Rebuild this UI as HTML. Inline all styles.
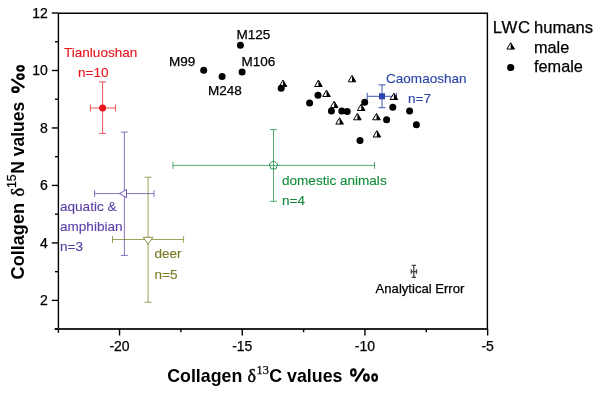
<!DOCTYPE html>
<html><head><meta charset="utf-8"><style>
html,body{margin:0;padding:0;background:#fff;}
svg{display:block;font-family:"Liberation Sans",sans-serif;will-change:transform;}
</style></head><body>
<svg width="600" height="393" viewBox="0 0 600 393">
<rect width="600" height="393" fill="#fff"/>
<path d="M58.3 13.2 H487.4 V329 M58.4 13 V332.8" stroke="#000" stroke-width="1.4" fill="none"/>
<path d="M54.7 329 H487.4" stroke="#262626" stroke-width="2" fill="none"/>
<path d="M119.55 329 V335.5" stroke="#000" stroke-width="1.4"/>
<path d="M242.25 329 V335.5" stroke="#000" stroke-width="1.4"/>
<path d="M364.95 329 V335.5" stroke="#000" stroke-width="1.4"/>
<path d="M487.65 329 V335.5" stroke="#000" stroke-width="1.4"/>
<path d="M180.90 329 V332.2" stroke="#000" stroke-width="1.4"/>
<path d="M303.60 329 V332.2" stroke="#000" stroke-width="1.4"/>
<path d="M426.30 329 V332.2" stroke="#000" stroke-width="1.4"/>
<path d="M51.8 13.00 H58.3" stroke="#000" stroke-width="1.4"/>
<path d="M51.8 70.48 H58.3" stroke="#000" stroke-width="1.4"/>
<path d="M51.8 127.96 H58.3" stroke="#000" stroke-width="1.4"/>
<path d="M51.8 185.44 H58.3" stroke="#000" stroke-width="1.4"/>
<path d="M51.8 242.92 H58.3" stroke="#000" stroke-width="1.4"/>
<path d="M51.8 300.40 H58.3" stroke="#000" stroke-width="1.4"/>
<path d="M55 41.74 H58.3" stroke="#000" stroke-width="1.4"/>
<path d="M55 99.22 H58.3" stroke="#000" stroke-width="1.4"/>
<path d="M55 156.70 H58.3" stroke="#000" stroke-width="1.4"/>
<path d="M55 214.18 H58.3" stroke="#000" stroke-width="1.4"/>
<path d="M55 271.66 H58.3" stroke="#000" stroke-width="1.4"/>
<path d="M55 329.14 H58.3" stroke="#000" stroke-width="1.4"/>
<text x="119.55" y="350.5" font-size="14" stroke="#000" stroke-width="0.25" text-anchor="middle">-20</text>
<text x="242.25" y="350.5" font-size="14" stroke="#000" stroke-width="0.25" text-anchor="middle">-15</text>
<text x="364.95" y="350.5" font-size="14" stroke="#000" stroke-width="0.25" text-anchor="middle">-10</text>
<text x="487.65" y="350.5" font-size="14" stroke="#000" stroke-width="0.25" text-anchor="middle">-5</text>
<text x="47.8" y="17.80" font-size="14" stroke="#000" stroke-width="0.25" text-anchor="end">12</text>
<text x="47.8" y="75.28" font-size="14" stroke="#000" stroke-width="0.25" text-anchor="end">10</text>
<text x="47.8" y="132.76" font-size="14" stroke="#000" stroke-width="0.25" text-anchor="end">8</text>
<text x="47.8" y="190.24" font-size="14" stroke="#000" stroke-width="0.25" text-anchor="end">6</text>
<text x="47.8" y="247.72" font-size="14" stroke="#000" stroke-width="0.25" text-anchor="end">4</text>
<text x="47.8" y="305.20" font-size="14" stroke="#000" stroke-width="0.25" text-anchor="end">2</text>
<path d="M102.6 81.9 V133.4 M99.1 81.9 H106.1 M99.1 133.4 H106.1 M90.4 108 H115.4 M90.4 104.5 V111.5 M115.4 104.5 V111.5" stroke="#e8141c" stroke-opacity="0.72" stroke-width="1" fill="none"/>
<circle cx="102.6" cy="108" r="3.5" fill="#e8141c"/>
<path d="M124.4 132.1 V255.4 M120.9 132.1 H127.9 M120.9 255.4 H127.9 M94.6 193.6 H154 M94.6 190.1 V197.1 M154 190.1 V197.1" stroke="#5b3ea6" stroke-opacity="0.72" stroke-width="1" fill="none"/>
<path d="M119.5 193.6 L126.5 189.5 L126.5 197.7 Z" stroke="#5b3ea6" stroke-width="1" stroke-opacity="0.85" fill="#fff"/>
<path d="M148.1 177.2 V302.2 M144.6 177.2 H151.6 M144.6 302.2 H151.6 M112.5 239.5 H183.6 M112.5 236.0 V243.0 M183.6 236.0 V243.0" stroke="#7a7a22" stroke-opacity="0.72" stroke-width="1" fill="none"/>
<path d="M143.3 237.3 L152.9 237.3 L148.1 244.2 Z" stroke="#7a7a22" stroke-width="1" stroke-opacity="0.85" fill="#fff"/>
<path d="M273.5 129.6 V201.3 M270.0 129.6 H277.0 M270.0 201.3 H277.0 M172.9 165.4 H374.5 M172.9 161.9 V168.9 M374.5 161.9 V168.9" stroke="#138a3a" stroke-opacity="0.72" stroke-width="1" fill="none"/>
<polygon points="273.50,160.90 277.68,163.94 276.09,168.86 270.91,168.86 269.32,163.94" stroke="#138a3a" stroke-width="1" stroke-opacity="0.85" fill="none"/>
<path d="M382 84.9 V107.7 M378.5 84.9 H385.5 M378.5 107.7 H385.5 M367.2 96.3 H396.5 M367.2 92.8 V99.8 M396.5 92.8 V99.8" stroke="#2a44a8" stroke-opacity="0.9" stroke-width="1" fill="none"/>
<rect x="379" y="93.3" width="6" height="6" fill="#2a44a8"/>
<path d="M283.00 80.10 L286.80 86.50 L279.20 86.50 Z" stroke="#000" stroke-width="1" fill="#fff" stroke-linejoin="miter"/>
<path d="M283.00 80.10 L286.80 86.50 L283.00 86.50 Z" fill="#000"/>
<path d="M318.40 80.10 L322.20 86.50 L314.60 86.50 Z" stroke="#000" stroke-width="1" fill="#fff" stroke-linejoin="miter"/>
<path d="M318.40 80.10 L322.20 86.50 L318.40 86.50 Z" fill="#000"/>
<path d="M326.50 90.10 L330.30 96.50 L322.70 96.50 Z" stroke="#000" stroke-width="1" fill="#fff" stroke-linejoin="miter"/>
<path d="M326.50 90.10 L330.30 96.50 L326.50 96.50 Z" fill="#000"/>
<path d="M334.20 101.20 L338.00 107.60 L330.40 107.60 Z" stroke="#000" stroke-width="1" fill="#fff" stroke-linejoin="miter"/>
<path d="M334.20 101.20 L338.00 107.60 L334.20 107.60 Z" fill="#000"/>
<path d="M339.60 117.70 L343.40 124.10 L335.80 124.10 Z" stroke="#000" stroke-width="1" fill="#fff" stroke-linejoin="miter"/>
<path d="M339.60 117.70 L343.40 124.10 L339.60 124.10 Z" fill="#000"/>
<path d="M361.20 104.10 L365.00 110.50 L357.40 110.50 Z" stroke="#000" stroke-width="1" fill="#fff" stroke-linejoin="miter"/>
<path d="M361.20 104.10 L365.00 110.50 L361.20 110.50 Z" fill="#000"/>
<path d="M357.40 113.40 L361.20 119.80 L353.60 119.80 Z" stroke="#000" stroke-width="1" fill="#fff" stroke-linejoin="miter"/>
<path d="M357.40 113.40 L361.20 119.80 L357.40 119.80 Z" fill="#000"/>
<path d="M376.50 113.40 L380.30 119.80 L372.70 119.80 Z" stroke="#000" stroke-width="1" fill="#fff" stroke-linejoin="miter"/>
<path d="M376.50 113.40 L380.30 119.80 L376.50 119.80 Z" fill="#000"/>
<path d="M376.90 130.60 L380.70 137.00 L373.10 137.00 Z" stroke="#000" stroke-width="1" fill="#fff" stroke-linejoin="miter"/>
<path d="M376.90 130.60 L380.70 137.00 L376.90 137.00 Z" fill="#000"/>
<path d="M393.90 93.10 L397.70 99.50 L390.10 99.50 Z" stroke="#000" stroke-width="1" fill="#fff" stroke-linejoin="miter"/>
<path d="M393.90 93.10 L397.70 99.50 L393.90 99.50 Z" fill="#000"/>
<path d="M352.00 75.40 L355.80 81.80 L348.20 81.80 Z" stroke="#000" stroke-width="1" fill="#fff" stroke-linejoin="miter"/>
<path d="M352.00 75.40 L355.80 81.80 L352.00 81.80 Z" fill="#000"/>
<circle cx="240.4" cy="45.2" r="3.5" fill="#000"/>
<circle cx="203.7" cy="70.3" r="3.5" fill="#000"/>
<circle cx="222.1" cy="76.4" r="3.5" fill="#000"/>
<circle cx="242.1" cy="71.9" r="3.5" fill="#000"/>
<circle cx="281.2" cy="88.2" r="3.5" fill="#000"/>
<circle cx="318" cy="95.2" r="3.5" fill="#000"/>
<circle cx="309.6" cy="102.9" r="3.5" fill="#000"/>
<circle cx="331.4" cy="111.1" r="3.5" fill="#000"/>
<circle cx="341.8" cy="111.1" r="3.5" fill="#000"/>
<circle cx="347.2" cy="111.5" r="3.5" fill="#000"/>
<circle cx="364.7" cy="102.2" r="3.5" fill="#000"/>
<circle cx="360" cy="140.4" r="3.5" fill="#000"/>
<circle cx="392.8" cy="107.3" r="3.5" fill="#000"/>
<circle cx="386.6" cy="119.8" r="3.5" fill="#000"/>
<circle cx="409.6" cy="110.9" r="3.5" fill="#000"/>
<circle cx="416.4" cy="124.7" r="3.5" fill="#000"/>
<path d="M413.8 265.3 V277.3 M411.7 265.3 H416 M411.7 277.3 H416 M411.3 271.6 H416.5 M411.3 269.2 V273.8 M416.5 269.2 V273.8" stroke="#444" stroke-width="1.3" fill="none"/>
<text x="64" y="56.7" font-size="13.55" fill="#e8141c" stroke="#e8141c" stroke-width="0.12" >Tianluoshan</text>
<text x="78" y="76.6" font-size="13.55" fill="#e8141c" stroke="#e8141c" stroke-width="0.12" >n=10</text>
<text x="236.5" y="38.5" font-size="13.55" fill="#000" stroke="#000" stroke-width="0.25" >M125</text>
<text x="169" y="65.9" font-size="13.55" fill="#000" stroke="#000" stroke-width="0.25" >M99</text>
<text x="241.5" y="66.3" font-size="13.55" fill="#000" stroke="#000" stroke-width="0.25" >M106</text>
<text x="208" y="95.2" font-size="13.55" fill="#000" stroke="#000" stroke-width="0.25" >M248</text>
<text x="386" y="82.5" font-size="13.55" fill="#2a44a8" stroke="#2a44a8" stroke-width="0.12" >Caomaoshan</text>
<text x="408" y="102.6" font-size="13.55" fill="#2a44a8" stroke="#2a44a8" stroke-width="0.12" >n=7</text>
<text x="282" y="185.2" font-size="13.55" fill="#138a3a" stroke="#138a3a" stroke-width="0.12" >domestic animals</text>
<text x="282" y="205.2" font-size="13.55" fill="#138a3a" stroke="#138a3a" stroke-width="0.12" >n=4</text>
<text x="60" y="210.5" font-size="13.55" fill="#5b3ea6" stroke="#5b3ea6" stroke-width="0.12" >aquatic &amp;</text>
<text x="60" y="230.7" font-size="13.55" fill="#5b3ea6" stroke="#5b3ea6" stroke-width="0.12" >amphibian</text>
<text x="60" y="251" font-size="13.55" fill="#5b3ea6" stroke="#5b3ea6" stroke-width="0.12" >n=3</text>
<text x="154.5" y="258.1" font-size="13.55" fill="#7a7a22" stroke="#7a7a22" stroke-width="0.12" >deer</text>
<text x="154.5" y="279" font-size="13.55" fill="#7a7a22" stroke="#7a7a22" stroke-width="0.12" >n=5</text>
<text x="375.6" y="293.2" font-size="13.1" fill="#000" stroke="#000" stroke-width="0.25" >Analytical Error</text>
<text x="492.8" y="32.6" font-size="16.8" fill="#000" stroke="#000" stroke-width="0.25" letter-spacing="0.7">LWC</text>
<text x="534" y="32.6" font-size="16.6" fill="#000" stroke="#000" stroke-width="0.25" >humans</text>
<text x="534" y="52.5" font-size="16.3" fill="#000" stroke="#000" stroke-width="0.25" >male</text>
<text x="534" y="72.3" font-size="16.3" fill="#000" stroke="#000" stroke-width="0.25" >female</text>
<path d="M510.70 42.70 L514.50 49.10 L506.90 49.10 Z" stroke="#000" stroke-width="1" fill="#fff" stroke-linejoin="miter"/>
<path d="M510.70 42.70 L514.50 49.10 L510.70 49.10 Z" fill="#000"/>
<circle cx="510.7" cy="67.5" r="3.6" fill="#000"/>
<g font-weight="bold" font-size="17.5">
<text x="167.2" y="381.9" font-size="17.8">Collagen</text>
<text x="247.6" y="381.9" font-family="Liberation Serif" font-weight="normal" font-size="18" stroke="#000" stroke-width="0.45">δ</text>
<text x="256.6" y="373.6" font-family="Liberation Serif" font-weight="normal" font-size="12.3" stroke="#000" stroke-width="0.25">13</text>
<text x="269.3" y="381.9" font-size="17.8">C values</text>
</g>
<g fill="none" stroke="#000" stroke-width="2.2"><ellipse cx="353.35" cy="372.55" rx="2.25" ry="3.15"/><path d="M363.9 368.5 L355.4 381.5" stroke-width="2.3"/><ellipse cx="366.4" cy="377.6" rx="2.3" ry="3.2"/><ellipse cx="374.65" cy="377.6" rx="2.3" ry="3.2"/></g>
<g transform="translate(24.3 278.6) rotate(-90)" font-weight="bold" font-size="17.5">
<text x="-0.8" y="0" font-size="18.1">Collagen</text>
<text x="82.2" y="0" font-family="Liberation Serif" font-weight="normal" font-size="18.5" stroke="#000" stroke-width="0.45">δ</text>
<text x="90.6" y="-8.0" font-weight="normal" font-size="12.2" stroke="#000" stroke-width="0.25">15</text>
<text x="104.9" y="0">N values</text>
<g transform="translate(-164.4 -381.4)"><g fill="none" stroke="#000" stroke-width="2.2"><ellipse cx="353.35" cy="372.55" rx="2.25" ry="3.15"/><path d="M363.9 368.5 L355.4 381.5" stroke-width="2.3"/><ellipse cx="366.4" cy="377.6" rx="2.3" ry="3.2"/><ellipse cx="374.65" cy="377.6" rx="2.3" ry="3.2"/></g></g>
</g>
</svg>
</body></html>
